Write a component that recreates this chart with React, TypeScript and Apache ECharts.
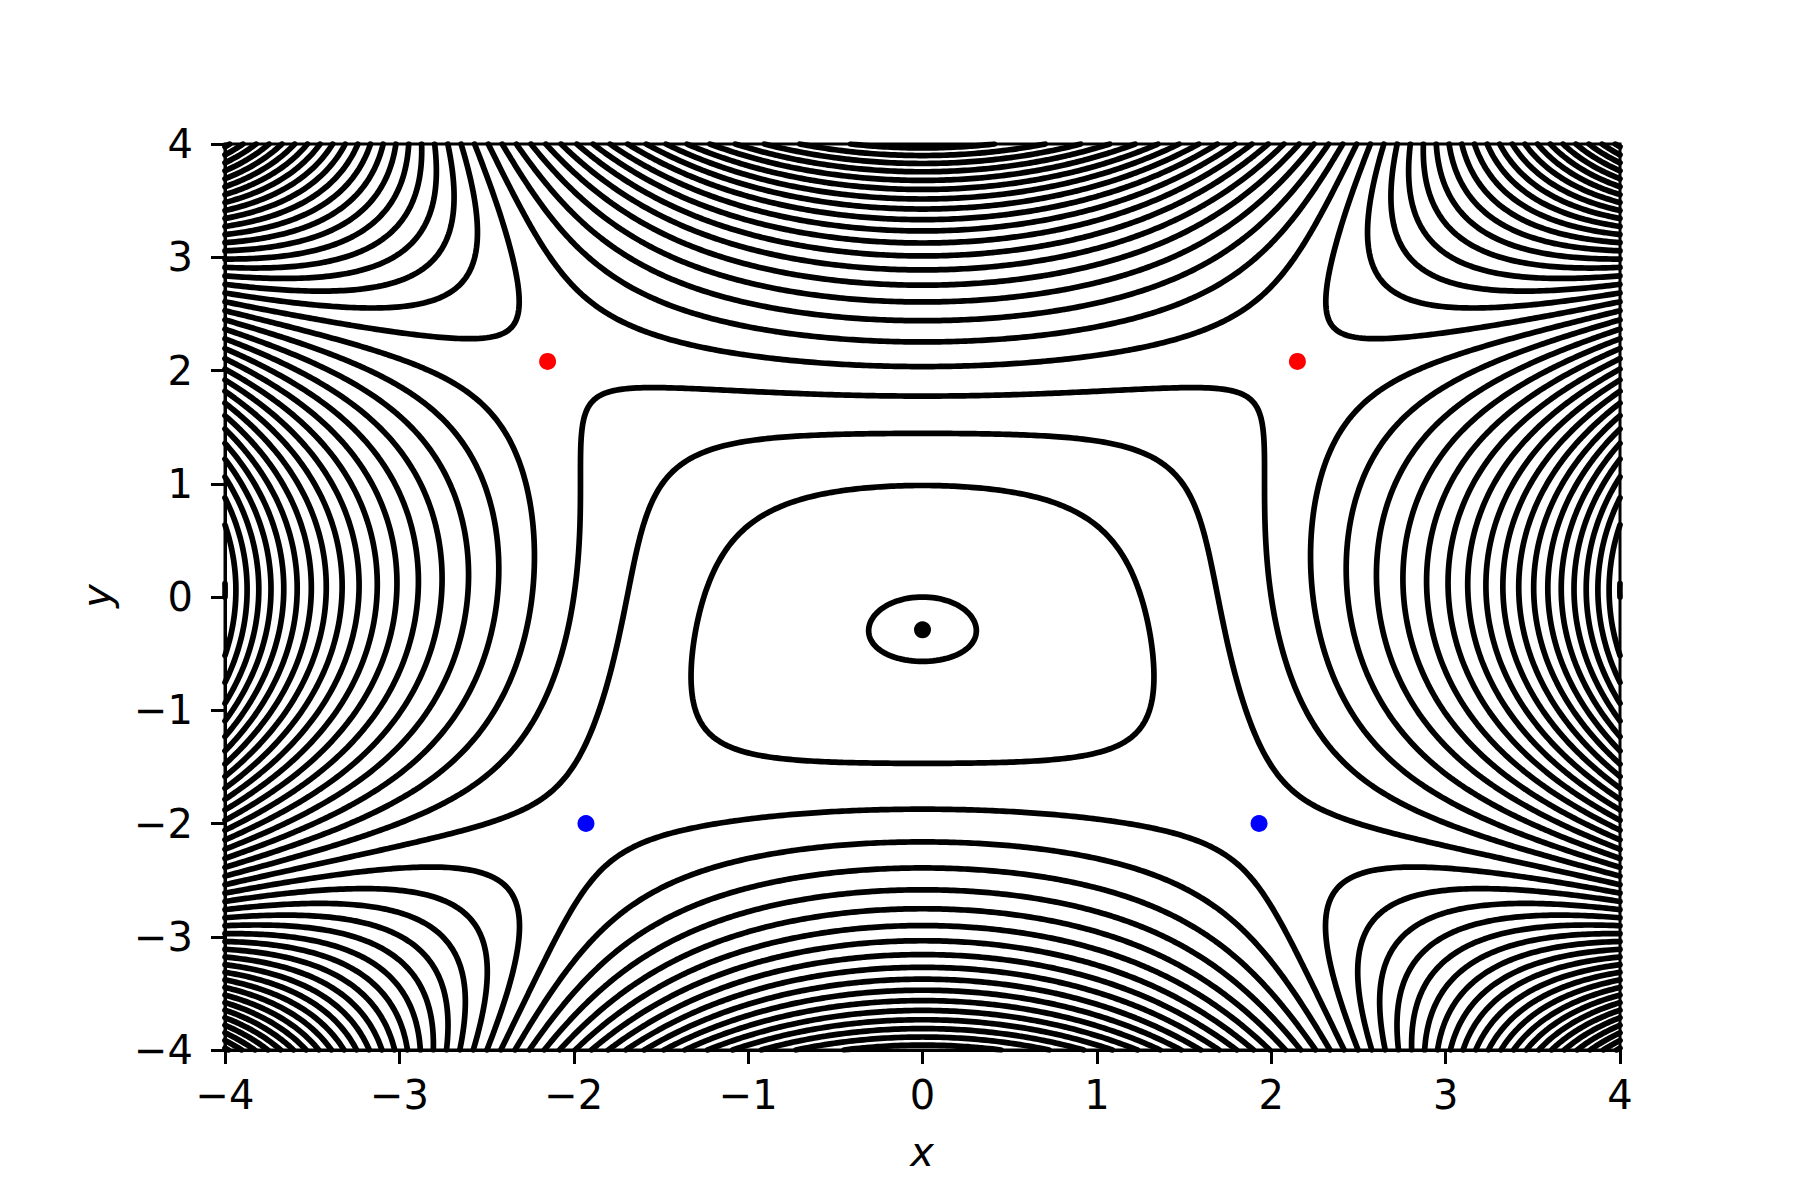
import React, { useEffect, useRef } from "react";
import * as echarts from "echarts";

// Axis ranges and ticks
const X_MIN = -4;
const X_MAX = 4;
const Y_MIN = -4;
const Y_MAX = 4;
const TICKS = [-4, -3, -2, -1, 0, 1, 2, 3, 4];

// Scalar field read from the contour spacing:
// f(x,y) = CX2 x^2 + CY2 y^2 + CX4 x^4 + CY4 y^4 + CXY x^2 y^2 + CY1 y
const CX2 = 0.9;
const CY2 = 1.0;
const CX4 = 0.075;
const CY4 = 0.063;
const CXY = -0.368;
const CY1 = 0.58;

// Contour levels (evenly spaced)
const LEVELS = [
  -32, -30.4, -28.8, -27.2, -25.6, -24, -22.4, -20.8, -19.2, -17.6, -16, -14.4,
  -12.8, -11.2, -9.6, -8, -6.4, -4.8, -3.2, -1.6, 0, 1.6, 3.2, 4.8, 6.4, 8, 9.6,
  11.2, 12.8, 14.4, 16, 17.6, 19.2, 20.8, 22.4, 24, 25.6, 27.2, 28.8, 30.4, 32,
  33.6, 35.2,
];

// Critical points
const SADDLES_TOP = [
  [-2.15, 2.08],
  [2.15, 2.08],
];
const SADDLES_BOTTOM = [
  [-1.93, -2.0],
  [1.93, -2.0],
];
const MINIMUM = [[0, -0.29]];

const GRID_N = 400;

function field(x: number, y: number): number {
  const x2 = x * x;
  const y2 = y * y;
  return CX2 * x2 + CY2 * y2 + CX4 * x2 * x2 + CY4 * y2 * y2 + CXY * x2 * y2 + CY1 * y;
}

function buildContours(): number[][][] {
  const n = GRID_N;
  const hx = (X_MAX - X_MIN) / n;
  const hy = (Y_MAX - Y_MIN) / n;
  const W = n + 1;
  const z = new Float64Array(W * W);
  for (let j = 0; j <= n; j++) {
    for (let i = 0; i <= n; i++) {
      z[j * W + i] = field(X_MIN + i * hx, Y_MIN + j * hy);
    }
  }
  const paths: number[][][] = [];
  for (const L of LEVELS) {
    const pts = new Map<number, number[]>();
    const segA: number[] = [];
    const segB: number[] = [];
    const adj = new Map<number, number[]>();
    const edgePoint = (id: number, i: number, j: number, horiz: boolean) => {
      if (pts.has(id)) return;
      if (horiz) {
        const va = z[j * W + i];
        const vb = z[j * W + i + 1];
        const t = (L - va) / (vb - va);
        pts.set(id, [X_MIN + (i + t) * hx, Y_MIN + j * hy]);
      } else {
        const va = z[j * W + i];
        const vb = z[(j + 1) * W + i];
        const t = (L - va) / (vb - va);
        pts.set(id, [X_MIN + i * hx, Y_MIN + (j + t) * hy]);
      }
    };
    const addSeg = (e1: number, e2: number) => {
      const s = segA.length;
      segA.push(e1);
      segB.push(e2);
      if (!adj.has(e1)) adj.set(e1, []);
      if (!adj.has(e2)) adj.set(e2, []);
      adj.get(e1)!.push(s);
      adj.get(e2)!.push(s);
    };
    for (let j = 0; j < n; j++) {
      for (let i = 0; i < n; i++) {
        const a = z[j * W + i];
        const b = z[j * W + i + 1];
        const c = z[(j + 1) * W + i + 1];
        const d = z[(j + 1) * W + i];
        const A = a > L, B = b > L, C = c > L, D = d > L;
        if (A === B && B === C && C === D) continue;
        const eB = 2 * (j * W + i);
        const eT = 2 * ((j + 1) * W + i);
        const eL = 2 * (j * W + i) + 1;
        const eR = 2 * (j * W + i + 1) + 1;
        const cross: number[] = [];
        if (A !== B) { edgePoint(eB, i, j, true); cross.push(eB); }
        if (B !== C) { edgePoint(eR, i + 1, j, false); cross.push(eR); }
        if (D !== C) { edgePoint(eT, i, j + 1, true); cross.push(eT); }
        if (A !== D) { edgePoint(eL, i, j, false); cross.push(eL); }
        if (cross.length === 2) {
          addSeg(cross[0], cross[1]);
        } else if (cross.length === 4) {
          const m = (a + b + c + d) / 4 > L;
          if (A) {
            if (m) { addSeg(eB, eR); addSeg(eT, eL); }
            else { addSeg(eL, eB); addSeg(eR, eT); }
          } else {
            if (m) { addSeg(eL, eB); addSeg(eR, eT); }
            else { addSeg(eB, eR); addSeg(eT, eL); }
          }
        }
      }
    }
    const used = new Uint8Array(segA.length);
    const walk = (start: number, chain: number[]) => {
      let cur = start;
      for (;;) {
        const list = adj.get(cur);
        if (!list) break;
        let next = -1;
        for (const s of list) if (!used[s]) { next = s; break; }
        if (next < 0) break;
        used[next] = 1;
        const e = segA[next] === cur ? segB[next] : segA[next];
        chain.push(e);
        cur = e;
      }
    };
    for (let s = 0; s < segA.length; s++) {
      if (used[s]) continue;
      used[s] = 1;
      const fwd = [segA[s], segB[s]];
      walk(segB[s], fwd);
      const back: number[] = [];
      walk(segA[s], back);
      const chain = back.reverse().concat(fwd);
      paths.push(chain.map((e) => pts.get(e)!));
    }
  }
  return paths;
}

const minus = (v: number) => String(v).replace("-", "\u2212");

export default function App() {
  const ref = useRef<HTMLDivElement>(null);
  useEffect(() => {
    document.body.style.margin = "0";
    if (!ref.current) return;
    const chart = echarts.init(ref.current, undefined, { renderer: "svg" });
    const paths = buildContours();
    const font = '"DejaVu Sans", "Noto Sans", sans-serif';
    chart.setOption({
      animation: false,
      backgroundColor: "#ffffff",
      grid: {
        left: 225,
        right: 180,
        top: 144,
        bottom: 150,
        show: true,
        borderColor: "#000",
        borderWidth: 3,
        backgroundColor: "transparent",
      },
      xAxis: {
        type: "value",
        min: X_MIN,
        max: X_MAX,
        interval: 1,
        axisLine: { show: true, onZero: false, lineStyle: { color: "#000", width: 3 } },
        axisTick: { show: true, length: 14, inside: false, lineStyle: { color: "#000", width: 3 } },
        axisLabel: {
          show: true,
          fontSize: 40,
          color: "#000",
          fontFamily: font,
          margin: 25,
          showMinLabel: true,
          showMaxLabel: true,
          formatter: (v: number) => (TICKS.includes(v) ? minus(v) : ""),
        },
        splitLine: { show: false },
      },
      yAxis: {
        type: "value",
        min: Y_MIN,
        max: Y_MAX,
        interval: 1,
        axisLine: { show: true, onZero: false, lineStyle: { color: "#000", width: 3 } },
        axisTick: { show: true, length: 14, inside: false, lineStyle: { color: "#000", width: 3 } },
        axisLabel: {
          show: true,
          fontSize: 40,
          color: "#000",
          fontFamily: font,
          margin: 32,
          showMinLabel: true,
          showMaxLabel: true,
          formatter: (v: number) => (TICKS.includes(v) ? minus(v) : ""),
        },
        splitLine: { show: false },
      },
      graphic: [
        {
          type: "text",
          x: 922,
          y: 1152,
          style: {
            text: "x",
            font: `italic 40px ${font}`,
            fill: "#000",
            align: "center",
            verticalAlign: "middle",
            textAlign: "center",
            textVerticalAlign: "middle",
          },
        },
        {
          type: "text",
          x: 97,
          y: 596,
          rotation: Math.PI / 2,
          style: {
            text: "y",
            font: `italic 40px ${font}`,
            fill: "#000",
            align: "center",
            verticalAlign: "middle",
            textAlign: "center",
            textVerticalAlign: "middle",
          },
        },
      ],
      series: [
        {
          type: "lines",
          coordinateSystem: "cartesian2d",
          polyline: true,
          silent: true,
          clip: true,
          data: paths.map((p) => ({ coords: p })),
          lineStyle: { color: "#000", width: 5.7, opacity: 1, cap: "round", join: "round" },
          z: 2,
        },
        {
          type: "scatter",
          data: SADDLES_TOP,
          symbol: "circle",
          symbolSize: 17,
          itemStyle: { color: "#ff0000", opacity: 1 },
          silent: true,
          z: 5,
        },
        {
          type: "scatter",
          data: SADDLES_BOTTOM,
          symbol: "circle",
          symbolSize: 17,
          itemStyle: { color: "#0000ff", opacity: 1 },
          silent: true,
          z: 5,
        },
        {
          type: "scatter",
          data: MINIMUM,
          symbol: "circle",
          symbolSize: 17,
          itemStyle: { color: "#000000", opacity: 1 },
          silent: true,
          z: 5,
        },
      ],
    });
    return () => chart.dispose();
  }, []);
  return <div ref={ref} style={{ width: 1800, height: 1200 }} />;
}
